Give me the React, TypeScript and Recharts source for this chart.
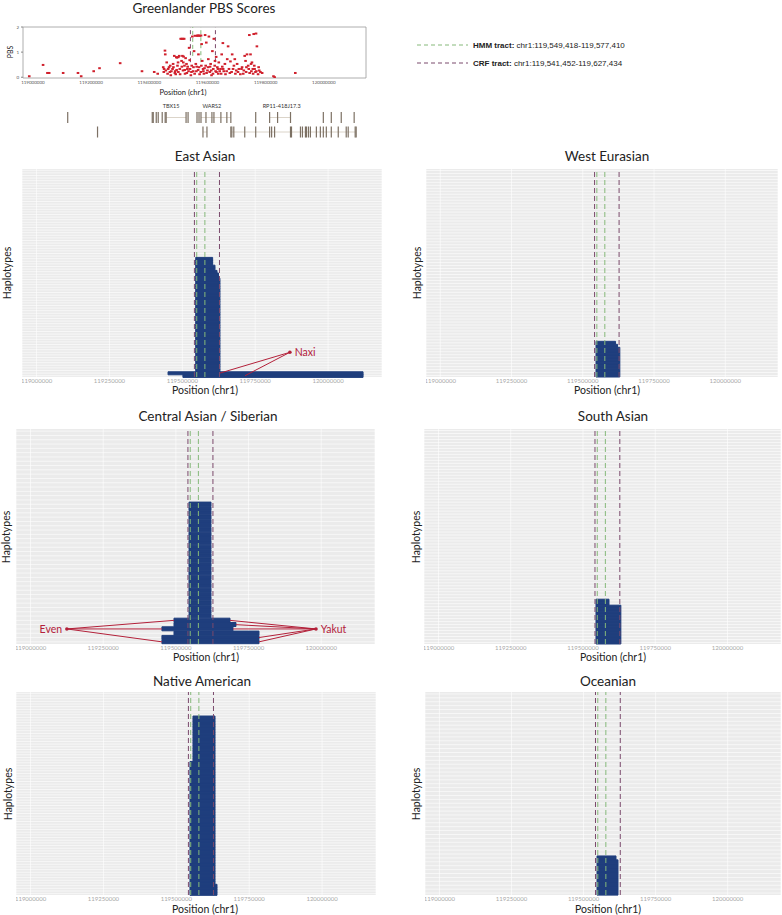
import {
  BarChart,
  Bar,
  XAxis,
  YAxis,
  CartesianGrid,
  ReferenceLine,
  ReferenceDot,
  ReferenceArea,
  ScatterChart,
  Scatter,
} from "recharts";

const FONT = "Lato, 'Open Sans', sans-serif";
const BLUE = "#1f3e7d";
const RED_PT = "#d0202c";
const RED_NOTE = "#b3213a";
const HMM_COLOR = "#86b97a";
const CRF_COLOR = "#7b4a6c";

// tracts
const hmmTract = [119549418, 119577410];
const crfTract = [119541452, 119627434];

// PBS scan
const pbsPos = [
  118987500, 119035000, 119050000, 119056000, 119104000, 119155000, 119166000, 119209000, 119229000, 119300000,
  119375000, 119417000, 119429000, 119454000, 119455000, 119451000, 119457000, 119463000, 119468000, 119471000,
  119474000, 119480000, 119482000, 119486000, 119489000, 119491000, 119495000, 119497000, 119500000, 119503000,
  119505000, 119508000, 119511000, 119514000, 119516000, 119520000, 119521000, 119523000, 119525000, 119528000,
  119531000, 119535000, 119537000, 119539000, 119543000, 119546000, 119548000, 119551000, 119554000, 119557000,
  119560000, 119562000, 119565000, 119569000, 119571000, 119574000, 119577000, 119580000, 119582000, 119585000,
  119588000, 119592000, 119594000, 119596000, 119600000, 119603000, 119605000, 119608000, 119611000, 119614000,
  119617000, 119620000, 119622000, 119626000, 119628000, 119630000, 119634000, 119637000, 119639000, 119645000,
  119649000, 119653000, 119656000, 119660000, 119662000, 119668000, 119671000, 119674000, 119679000, 119683000,
  119685000, 119691000, 119694000, 119699000, 119702000, 119708000, 119713000, 119719000, 119725000, 119728000,
  119731000, 119733000, 119736000, 119740000, 119742000, 119744000, 119748000, 119751000, 119753000, 119757000,
  119759000, 119762000, 119765000, 119767000, 119770000, 119774000, 119778000, 119788000, 119827000, 119831000,
  119902000, 119448000, 119450000, 119460000, 119465000, 119472000, 119476000, 119483000, 119488000, 119494000,
  119499000, 119506000, 119512000, 119517000, 119522000, 119529000, 119532000, 119540000, 119545000, 119552000,
  119556000, 119563000, 119568000, 119573000, 119579000, 119586000, 119590000, 119597000, 119602000, 119609000,
  119613000, 119619000, 119625000, 119631000, 119636000, 119642000, 119647000, 119651000, 119654000, 119666000,
  119677000, 119688000, 119696000, 119705000, 119717000, 119723000, 119734000, 119745000, 119750000, 119756000,
  119761000, 119768000, 119776000, 119782000, 119512000, 119516000, 119566000, 119570000, 119578000, 119493000,
  119500000, 119518000,
];
const pbsScore = [
  0.04, 0.49, 0.17, 0.17, 0.17, 0.17, 0.04, 0.24, 0.36, 0.56,
  0.24, 0.21, 0.14, 1.06, 0.91, 0.33, 0.27, 0.14, 0.4, 0.21,
  0.08, 0.33, 0.53, 0.85, 0.24, 0.12, 0.78, 0.46, 0.21, 0.85,
  0.33, 1.53, 0.65, 0.85, 0.27, 1.53, 0.46, 0.14, 0.76, 0.53,
  0.33, 0.24, 1.17, 0.68, 0.08, 0.46, 1.62, 0.24, 1.04, 1.65,
  0.53, 0.24, 1.65, 0.91, 0.4, 1.65, 0.21, 1.32, 0.65, 0.33,
  0.14, 1.68, 0.46, 1.38, 0.27, 0.72, 1.62, 0.21, 0.53, 0.08,
  1.04, 0.33, 1.53, 0.65, 0.24, 0.81, 0.4, 0.14, 0.59, 0.33,
  0.91, 1.36, 0.24, 0.53, 0.12, 0.72, 1.23, 0.33, 0.63, 0.21,
  0.91, 0.46, 0.72, 0.27, 0.53, 0.33, 0.12, 0.4, 0.27, 0.85,
  0.65, 0.21, 0.91, 0.46, 0.33, 1.68, 0.91, 0.24, 0.59, 0.14,
  1.72, 0.33, 0.21, 1.74, 1.23, 0.12, 0.27, 0.17, 0.04, 0.0,
  0.17, 0.4, 0.21, 0.59, 0.33, 0.46, 0.24, 0.4, 0.17, 0.29,
  0.59, 0.12, 0.42, 0.59, 0.29, 0.17, 0.42, 0.33, 0.21, 0.4,
  0.14, 0.42, 0.29, 0.12, 0.46, 0.24, 0.36, 0.17, 0.4, 0.42,
  0.27, 0.14, 0.46, 0.21, 0.33, 0.24, 0.14, 0.42, 0.33, 0.24,
  0.17, 0.33, 0.14, 0.21, 0.33, 0.14, 0.4, 0.17, 0.53, 0.33,
  0.46, 0.24, 0.4, 0.21, 1.53, 1.53, 1.66, 1.66, 1.66, 0.8,
  0.8, 0.82,
];
const pbsTicksX = [119000000, 119200000, 119400000, 119600000, 119800000, 120000000];
const pbsTicksY = [0, 1, 2];

// gene models (two lanes)
const lane1Exons = [
  119119700, 119410300, 119413700, 119424000, 119430800, 119444500, 119454700, 119458100, 119526500,
  119533400, 119564100, 119571000, 119577800, 119594900, 119615400, 119622300, 119646200, 119666700,
  119680400, 119765900, 119813700, 119841100, 119885500, 119998300, 120025700, 120059900, 120104300,
];
const lane2Exons = [
  119222200, 119584600, 119598300, 119680400, 119683800, 119690600, 119728200, 119765900, 119813700,
  119820600, 119830800, 119885500, 119888900, 119919700, 119926500, 119936800, 119940200, 119947100,
  119953900, 119974400, 119988100, 119998300, 120008600, 120025700, 120049600, 120077000, 120083800,
  120107800, 120111200,
];
const lane1Introns = [[119458100, 119526500], [119577800, 119680400], [119813700, 119885500]];
const lane2Introns = [[119584600, 119598300], [119680400, 120111200]];
const geneNames = ["TBX15", "WARS2", "RP11-418J17.3"];
const genePos = [119475000, 119615000, 119855000];

// haplotype tracts, bottom row first
const eastAsianStart = [119502000, 119451000, 119546000, 119546000, 119546000, 119546000, 119546000];
const eastAsianEnd = [120120000, 120120000, 119629000, 119624000, 119619000, 119612000, 119604000];
const eastAsianCount = [1, 1, 36, 2, 1, 2, 3];

const westEurasianStart = [119546500, 119546500, 119546500];
const westEurasianEnd = [119630000, 119622000, 119615000];
const westEurasianCount = [10, 1, 1];

const centralAsianStart = [119452000, 119493500, 119452000, 119493500, 119493500, 119545100];
const centralAsianEnd = [119786000, 119786000, 119696500, 119706800, 119686200, 119620800];
const centralAsianCount = [2, 1, 1, 1, 1, 27];

const southAsianStart = [119545000, 119545000];
const southAsianEnd = [119631000, 119590000];
const southAsianCount = [13, 2];

const nativeAmericanStart = [119546900, 119546900, 119557200];
const nativeAmericanEnd = [119639500, 119632700, 119632700];
const nativeAmericanCount = [4, 46, 17];

const oceanianStart = [119546700, 119546700];
const oceanianEnd = [119619500, 119612600];
const oceanianCount = [9, 1];

const haplotypeTotals = [80, 70, 50, 72, 76, 52];

const X_DOMAIN: [number, number] = [118950000, 120185000];
const X_TICKS = [119000000, 119250000, 119500000, 119750000, 120000000];
const PBS_DOMAIN: [number, number] = [118966000, 120145000];

type Row = { row: number; tract: [number, number] | null };

function buildRows(starts: number[], ends: number[], counts: number[], total: number): Row[] {
  const rows: Row[] = [];
  starts.forEach((s, i) => {
    for (let k = 0; k < counts[i]; k++) rows.push({ row: rows.length, tract: [s, ends[i]] });
  });
  while (rows.length < total) rows.push({ row: rows.length, tract: null });
  return rows;
}

type Note = { label: string; pos: number; row: number; side: "left" | "right"; toPos: number[]; toRow: number[] };

const naxiNote: Note = { label: "Naxi", pos: 119869000, row: 9, side: "right", toPos: [119629000, 119715000], toRow: [1, 0] };
const evenNote: Note = {
  label: "Even", pos: 119125000, row: 3, side: "left",
  toPos: [119493500, 119452000, 119452000], toRow: [5, 3, 0],
};
const yakutNote: Note = {
  label: "Yakut", pos: 119982000, row: 3, side: "right",
  toPos: [119686200, 119706800, 119696500, 119786000, 119786000], toRow: [5, 4, 3, 1, 0],
};

function Txt({ x, y, size, children, rotate = 0, color = "#222", weight = 400 }: any) {
  return (
    <div
      style={{
        position: "absolute",
        left: x,
        top: y,
        transform: `translate(-50%, -50%) rotate(${rotate}deg)`,
        fontSize: size,
        fontFamily: FONT,
        color,
        fontWeight: weight,
        whiteSpace: "nowrap",
        lineHeight: 1,
      }}
    >
      {children}
    </div>
  );
}

function tractLines() {
  return [
    <ReferenceLine key="c0" x={crfTract[0]} stroke={CRF_COLOR} strokeDasharray="5 3" strokeWidth={1} />,
    <ReferenceLine key="h0" x={hmmTract[0]} stroke={HMM_COLOR} strokeDasharray="5 3" strokeWidth={1} />,
    <ReferenceLine key="h1" x={hmmTract[1]} stroke={HMM_COLOR} strokeDasharray="5 3" strokeWidth={1} />,
    <ReferenceLine key="c1" x={crfTract[1]} stroke={CRF_COLOR} strokeDasharray="5 3" strokeWidth={1} />,
  ];
}

function Panel({ title, x0, y0, x1, y1, titleX, titleY, hapX, labelX, labelY, rows, notes = [] }: any) {
  const w = x1 - x0;
  const h = y1 - y0;
  const band = h / rows.length;
  // one white guide per haplotype row, like ggplot's discrete grid
  const rowLines = rows.map((_: Row, i: number) => (i + 0.5) * band);
  return (
    <>
      <Txt x={titleX} y={titleY} size={13.5}>{title}</Txt>
      <Txt x={hapX} y={(y0 + y1) / 2} size={10.5} rotate={-90}>Haplotypes</Txt>
      <Txt x={labelX} y={labelY ?? y1 + 13} size={10.5}>Position (chr1)</Txt>
      <div style={{ position: "absolute", left: x0, top: y0 }}>
        <BarChart
          width={w}
          height={h + 10}
          data={rows}
          layout="vertical"
          margin={{ top: 0, right: 0, bottom: 0, left: 0 }}
          barCategoryGap={0}
          barGap={0}
        >
          <CartesianGrid fill="#ebebeb" stroke="#ffffff" strokeWidth={0.6} horizontalPoints={rowLines} />
          <XAxis
            type="number"
            domain={X_DOMAIN}
            ticks={X_TICKS}
            allowDataOverflow
            interval={0}
            height={10}
            tickLine={false}
            axisLine={false}
            tickSize={2}
            tickMargin={0}
            tick={{ fontSize: 6, fill: "#a8a8a8", fontFamily: FONT }}
          />
          <YAxis type="category" dataKey="row" reversed width={0} tick={false} tickLine={false} axisLine={false} interval={0} />
          <Bar dataKey="tract" fill={BLUE} stroke={BLUE} strokeWidth={1} isAnimationActive={false} />
          {tractLines()}
          {notes.map((n: Note) =>
            n.toPos.map((p, i) => (
              <ReferenceLine
                key={`${n.label}-${i}`}
                segment={[{ x: n.pos, y: n.row }, { x: p, y: n.toRow[i] }]}
                stroke={RED_NOTE}
                strokeWidth={1}
              />
            ))
          )}
          {notes.map((n: Note) => (
            <ReferenceDot
              key={n.label}
              x={n.pos}
              y={n.row}
              r={1.8}
              fill={RED_NOTE}
              stroke="none"
              label={{ value: n.label, position: n.side, offset: 3, fill: RED_NOTE, fontSize: 10.5, fontFamily: FONT }}
            />
          ))}
        </BarChart>
      </div>
    </>
  );
}

const pbsData = pbsPos.map((p, i) => ({ pos: p, pbs: pbsScore[i] }));
const exonData = [
  ...lane1Exons.map((p) => ({ pos: p, lane: 17.5 })),
  ...lane2Exons.map((p) => ({ pos: p, lane: 32 })),
];

export default function App() {
  const panels = [
    { title: "East Asian", x0: 22, y0: 169, x1: 382, y1: 377, titleX: 205, titleY: 157, hapX: 7, labelX: 205,
      rows: buildRows(eastAsianStart, eastAsianEnd, eastAsianCount, haplotypeTotals[0]), notes: [naxiNote] },
    { title: "West Eurasian", x0: 426, y0: 169, x1: 778, y1: 377, titleX: 607, titleY: 157, hapX: 417, labelX: 607,
      rows: buildRows(westEurasianStart, westEurasianEnd, westEurasianCount, haplotypeTotals[1]) },
    { title: "Central Asian / Siberian", x0: 16, y0: 429, x1: 375, y1: 644, titleX: 208, titleY: 417, hapX: 6, labelX: 206,
      rows: buildRows(centralAsianStart, centralAsianEnd, centralAsianCount, haplotypeTotals[2]), notes: [evenNote, yakutNote] },
    { title: "South Asian", x0: 424, y0: 429, x1: 781, y1: 644, titleX: 613, titleY: 417, hapX: 416, labelX: 613,
      rows: buildRows(southAsianStart, southAsianEnd, southAsianCount, haplotypeTotals[3]) },
    { title: "Native American", x0: 16, y0: 692, x1: 376, y1: 895, titleX: 202, titleY: 682, hapX: 8, labelX: 205, labelY: 909,
      rows: buildRows(nativeAmericanStart, nativeAmericanEnd, nativeAmericanCount, haplotypeTotals[4]) },
    { title: "Oceanian", x0: 425, y0: 692, x1: 781, y1: 895, titleX: 608, titleY: 682, hapX: 416, labelX: 608, labelY: 909,
      rows: buildRows(oceanianStart, oceanianEnd, oceanianCount, haplotypeTotals[5]) },
  ];

  return (
    <div style={{ position: "absolute", left: 0, top: 0, width: 782, height: 915, background: "#fff", overflow: "hidden", fontFamily: FONT }}>
      <Txt x={204} y={9} size={13.5}>Greenlander PBS Scores</Txt>
      <Txt x={10} y={52} size={7} rotate={-90}>PBS</Txt>
      <Txt x={183} y={93} size={7.5}>Position (chr1)</Txt>

      <div style={{ position: "absolute", left: 0, top: 0 }}>
        <ScatterChart width={370} height={90} margin={{ top: 27, right: 4, left: 0, bottom: 0 }}>
          <XAxis
            type="number"
            dataKey="pos"
            domain={PBS_DOMAIN}
            ticks={pbsTicksX}
            allowDataOverflow
            interval={0}
            height={12}
            tickLine={false}
            axisLine={false}
            tickSize={2}
            tickMargin={1}
            tick={{ fontSize: 4.5, fill: "#555", fontFamily: FONT }}
          />
          <YAxis
            type="number"
            dataKey="pbs"
            domain={[-0.03, 2]}
            ticks={pbsTicksY}
            allowDataOverflow
            width={23}
            tickLine={{ stroke: "#888" }}
            tickSize={2}
            axisLine={false}
            tick={{ fontSize: 4.5, fill: "#555", fontFamily: FONT }}
          />
          <ReferenceArea x1={PBS_DOMAIN[0]} x2={PBS_DOMAIN[1]} y1={-0.03} y2={2} fill="#fff" fillOpacity={1} stroke="#9a9a9a" strokeWidth={0.8} />
          <ReferenceLine segment={[{ x: crfTract[0], y: 0.6 }, { x: crfTract[0], y: 2 }]} stroke={CRF_COLOR} strokeDasharray="4 3" />
          <ReferenceLine segment={[{ x: hmmTract[0], y: 0.85 }, { x: hmmTract[0], y: 2 }]} stroke={HMM_COLOR} strokeDasharray="4 3" />
          <ReferenceLine segment={[{ x: hmmTract[1], y: 0.6 }, { x: hmmTract[1], y: 2 }]} stroke={HMM_COLOR} strokeDasharray="4 3" />
          <ReferenceLine segment={[{ x: crfTract[1], y: 0.6 }, { x: crfTract[1], y: 2 }]} stroke={CRF_COLOR} strokeDasharray="4 3" />
          <Scatter
            data={pbsData}
            fill={RED_PT}
            isAnimationActive={false}
            shape={(p: any) => <rect x={p.cx - 1.3} y={p.cy - 1} width={2.6} height={2} fill={RED_PT} />}
          />
        </ScatterChart>
      </div>

      <div style={{ position: "absolute", left: 0, top: 100 }}>
        <ScatterChart width={370} height={42} margin={{ top: 0, right: 4, left: 23, bottom: 0 }}>
          <XAxis type="number" dataKey="pos" domain={PBS_DOMAIN} allowDataOverflow hide />
          <YAxis type="number" dataKey="lane" domain={[0, 42]} reversed allowDataOverflow hide />
          {lane1Introns.map((s, i) => (
            <ReferenceLine key={`i1-${i}`} segment={[{ x: s[0], y: 17.5 }, { x: s[1], y: 17.5 }]} stroke="#d2c9bb" strokeWidth={0.8} />
          ))}
          {lane2Introns.map((s, i) => (
            <ReferenceLine key={`i2-${i}`} segment={[{ x: s[0], y: 32 }, { x: s[1], y: 32 }]} stroke="#d2c9bb" strokeWidth={0.8} />
          ))}
          <Scatter
            data={exonData}
            isAnimationActive={false}
            shape={(p: any) => <rect x={p.cx - 0.6} y={p.cy - 5.5} width={1.2} height={11} fill="#7d7164" />}
          />
          {geneNames.map((g, i) => (
            <ReferenceDot
              key={g}
              x={genePos[i]}
              y={6}
              r={0}
              stroke="none"
              label={{ value: g, position: "center", fontSize: 5.5, fill: "#333", fontFamily: FONT }}
            />
          ))}
        </ScatterChart>
      </div>

      <svg style={{ position: "absolute", left: 400, top: 30 }} width={382} height={45}>
        <line x1={17} x2={68} y1={15} y2={15} stroke={HMM_COLOR} strokeDasharray="4 3" strokeWidth={1} />
        <text x={73} y={18} fontSize={8} fontFamily="'Liberation Sans', Arial, sans-serif" fill="#222">
          <tspan fontWeight={700}>HMM tract:</tspan>
          <tspan> chr1:119,549,418-119,577,410</tspan>
        </text>
        <line x1={17} x2={68} y1={33} y2={33} stroke={CRF_COLOR} strokeDasharray="4 3" strokeWidth={1} />
        <text x={73} y={36} fontSize={8} fontFamily="'Liberation Sans', Arial, sans-serif" fill="#222">
          <tspan fontWeight={700}>CRF tract:</tspan>
          <tspan> chr1:119,541,452-119,627,434</tspan>
        </text>
      </svg>

      {panels.map((p) => (
        <Panel key={p.title} {...p} />
      ))}
    </div>
  );
}
